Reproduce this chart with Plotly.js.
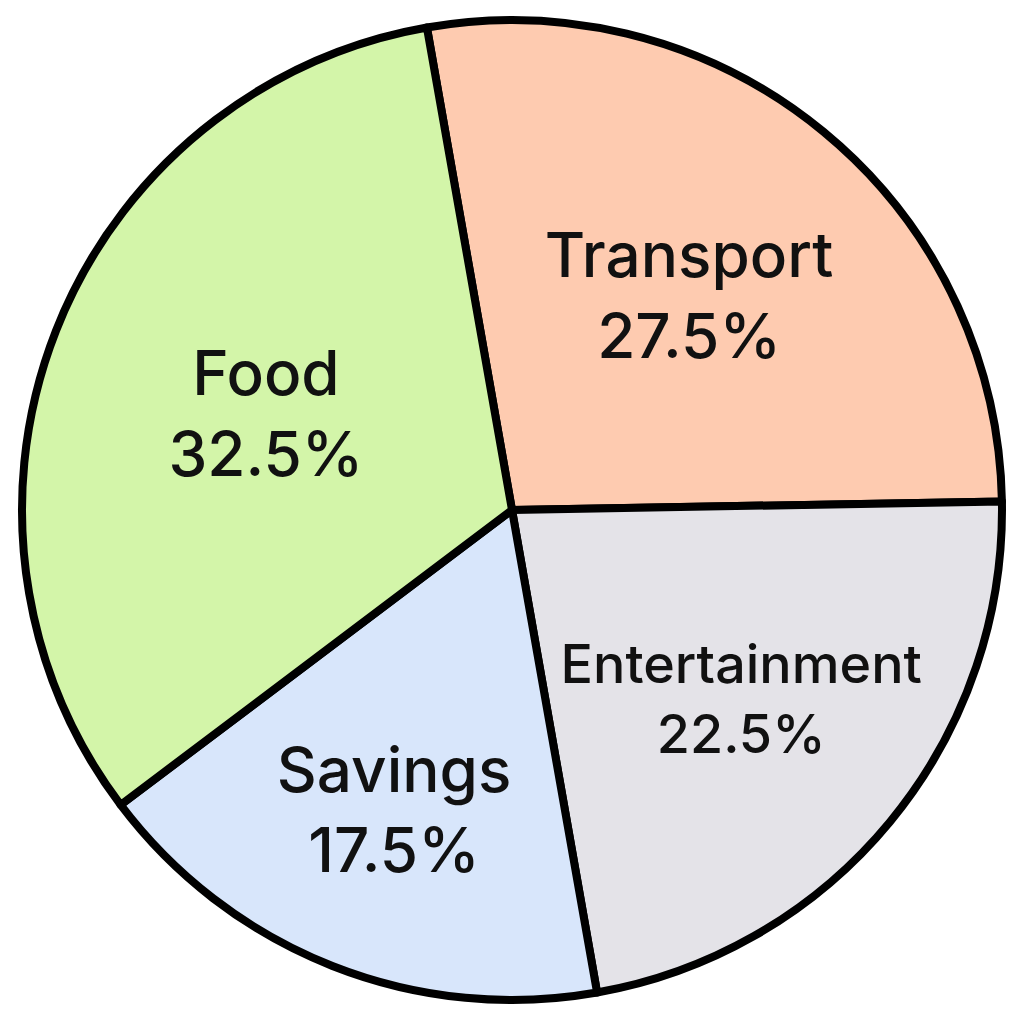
<!DOCTYPE html>
<html>
<head>
<meta charset="utf-8">
<script src="https://cdn.plot.ly/plotly-3.0.1.min.js"></script>
<style>html,body{margin:0;padding:0;background:#fff;}#chart{width:1024px;height:1024px;}</style>
</head>
<body>
<div id="chart"></div>
<script>
const categories = ["Transport", "Entertainment", "Savings", "Food"];
const shares = [27.5, 22.5, 17.5, 32.5];
const colors = ["#fecbb0", "#e4e3e8", "#d8e6fb", "#d3f5a9"];

Plotly.newPlot("chart", [{
  type: "pie",
  labels: categories,
  values: shares,
  sort: false,
  direction: "clockwise",
  rotation: -10,
  marker: {colors: colors, line: {color: "#000000", width: 8}},
  texttemplate: "%{label}<br>%{percent:.1%}",
  textposition: "inside",
  insidetextorientation: "horizontal",
  textfont: {family: "Inter, 'Open Sans', sans-serif", size: 62, weight: 500, color: "#111111"},
  hoverinfo: "none",
  showlegend: false
}], {
  width: 1024, height: 1024,
  margin: {l: 22, r: 22, t: 20, b: 24},
  paper_bgcolor: "#ffffff",
  showlegend: false
}, {displayModeBar: false, staticPlot: true});
</script>
</body>
</html>
